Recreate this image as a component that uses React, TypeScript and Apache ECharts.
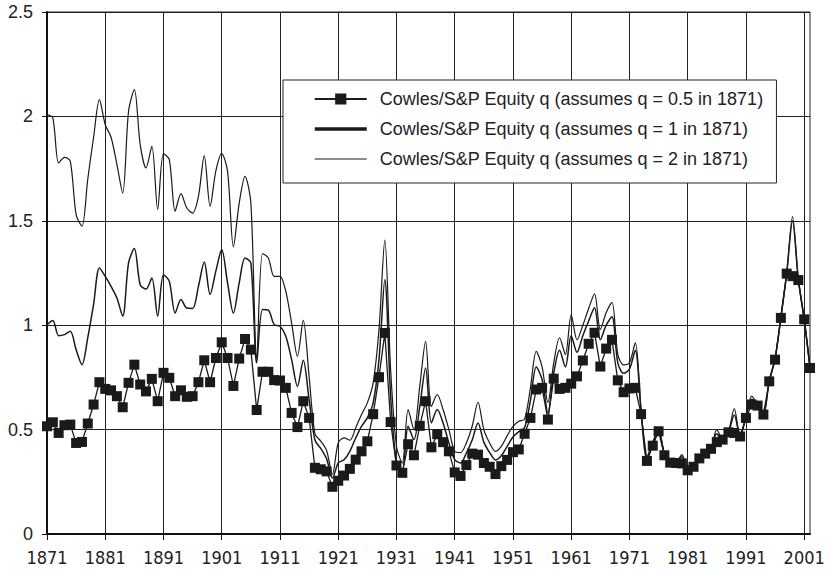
import React, { useEffect, useRef } from "react";
import * as echarts from "echarts";

const FIRST_YEAR = 1871;
const LAST_YEAR = 2002;
const years: string[] = [];
for (let y = FIRST_YEAR; y <= LAST_YEAR; y++) years.push(String(y));

const NAME_05 = "Cowles/S&P Equity q (assumes q = 0.5 in 1871)";
const NAME_1 = "Cowles/S&P Equity q (assumes q = 1 in 1871)";
const NAME_2 = "Cowles/S&P Equity q (assumes q = 2 in 1871)";

// 1871 .. 2002
const q05 = [
  0.516, 0.535, 0.484, 0.521, 0.524, 0.436, 0.441, 0.529, 0.62, 0.727,
  0.695, 0.688, 0.66, 0.607, 0.724, 0.811, 0.716, 0.683, 0.743, 0.636,
  0.772, 0.748, 0.66, 0.688, 0.657, 0.66, 0.727, 0.832, 0.727, 0.843,
  0.918, 0.843, 0.709, 0.84, 0.934, 0.883, 0.594, 0.777, 0.777, 0.737,
  0.735, 0.7, 0.58, 0.512, 0.636, 0.556, 0.317, 0.31, 0.3, 0.226,
  0.255, 0.28, 0.312, 0.356, 0.396, 0.444, 0.574, 0.751, 0.963, 0.536,
  0.328, 0.293, 0.43, 0.377, 0.518, 0.636, 0.415, 0.478, 0.44, 0.396,
  0.295, 0.278, 0.33, 0.385, 0.38, 0.34, 0.322, 0.287, 0.325, 0.355,
  0.392, 0.405, 0.48, 0.556, 0.692, 0.7, 0.548, 0.744, 0.695, 0.7,
  0.72, 0.755, 0.831, 0.911, 0.964, 0.802, 0.888, 0.93, 0.736, 0.679,
  0.697, 0.7, 0.574, 0.35, 0.423, 0.492, 0.377, 0.342, 0.34, 0.338,
  0.305, 0.322, 0.362, 0.385, 0.408, 0.44, 0.452, 0.487, 0.484, 0.467,
  0.556, 0.62, 0.615, 0.572, 0.731, 0.835, 1.035, 1.247, 1.235, 1.216,
  1.028, 0.795,
];

const q1 = [
  1.003, 1.023, 0.95, 0.955, 0.971, 0.883, 0.811, 0.94, 1.1, 1.274,
  1.234, 1.186, 1.13, 1.043, 1.298, 1.367, 1.194, 1.173, 1.226, 1.043,
  1.242, 1.21, 1.058, 1.123, 1.082, 1.08, 1.186, 1.303, 1.147, 1.26,
  1.362, 1.203, 1.058, 1.203, 1.322, 1.298, 0.82, 1.075, 1.072, 1.003,
  0.995, 0.947, 0.835, 0.707, 0.832, 0.644, 0.45, 0.41, 0.36, 0.268,
  0.34, 0.356, 0.396, 0.46, 0.516, 0.556, 0.628, 0.835, 1.218, 0.66,
  0.34, 0.308, 0.516, 0.452, 0.611, 0.795, 0.532, 0.596, 0.532, 0.436,
  0.356, 0.34, 0.388, 0.45, 0.532, 0.44, 0.39, 0.355, 0.375, 0.42,
  0.465, 0.49, 0.51, 0.64, 0.8, 0.74, 0.58, 0.77, 0.88, 0.8,
  0.95, 0.87, 0.95, 1.02, 1.083, 0.93, 1.0, 1.04, 0.82, 0.77,
  0.79, 0.88, 0.585, 0.36, 0.43, 0.495, 0.385, 0.347, 0.342, 0.37,
  0.31, 0.322, 0.362, 0.387, 0.41, 0.48, 0.452, 0.488, 0.57, 0.47,
  0.558, 0.645, 0.62, 0.573, 0.733, 0.837, 1.037, 1.248, 1.5, 1.217,
  1.03, 0.797,
];

const q2 = [
  2.009, 1.993, 1.777, 1.804, 1.785, 1.53, 1.474, 1.7, 1.9, 2.08,
  1.96, 1.9, 1.77, 1.633, 2.024, 2.128, 1.865, 1.753, 1.857, 1.554,
  1.822, 1.793, 1.546, 1.63, 1.561, 1.537, 1.617, 1.812, 1.57, 1.74,
  1.822, 1.737, 1.375, 1.585, 1.713, 1.585, 0.84, 1.343, 1.322, 1.234,
  1.234, 1.162, 1.01, 0.851, 1.023, 0.755, 0.48, 0.445, 0.4, 0.285,
  0.436, 0.46, 0.449, 0.508, 0.572, 0.628, 0.724, 0.979, 1.407, 0.787,
  0.42, 0.34, 0.596, 0.5, 0.707, 0.923, 0.611, 0.668, 0.596, 0.5,
  0.396, 0.39, 0.436, 0.516, 0.631, 0.5, 0.436, 0.396, 0.42, 0.47,
  0.515, 0.54, 0.55, 0.7, 0.875, 0.8, 0.63, 0.82, 0.94, 0.86,
  1.05, 0.93, 1.0, 1.08, 1.15, 0.98, 1.06, 1.11, 0.86, 0.81,
  0.82, 0.915, 0.6, 0.37, 0.44, 0.5, 0.39, 0.35, 0.345, 0.38,
  0.31, 0.325, 0.365, 0.39, 0.41, 0.5, 0.455, 0.49, 0.6, 0.47,
  0.56, 0.66, 0.62, 0.575, 0.735, 0.84, 1.04, 1.25, 1.52, 1.22,
  1.03, 0.8,
];

const Y_MIN = 0;
const Y_MAX = 2.5;
const Y_STEP = 0.5;

const INK = "#1a1a1a";
const TEXT = "#222";
const HIDDEN_SYMBOL = { opacity: 0, color: "rgba(0,0,0,0)", borderWidth: 0 };

export default function App() {
  const ref = useRef<HTMLDivElement>(null);
  useEffect(() => {
    if (!ref.current) return;
    const chart = echarts.init(ref.current, undefined, { renderer: "svg" });
    chart.setOption({
      animation: false,
      backgroundColor: "#ffffff",
      grid: {
        left: 47,
        right: 20,
        top: 12,
        bottom: 40,
        show: true,
        borderColor: TEXT,
        borderWidth: 1,
        backgroundColor: "transparent",
      },
      legend: {
        orient: "vertical",
        left: 283,
        top: 80,
        padding: [9, 13, 14, 30],
        itemWidth: 52,
        itemHeight: 14,
        itemGap: 10,
        backgroundColor: "#ffffff",
        borderColor: TEXT,
        borderWidth: 1,
        borderRadius: 0,
        textStyle: {
          fontSize: 18,
          lineHeight: 20,
          fontFamily: "'Liberation Sans', Arial, sans-serif",
          color: TEXT,
          padding: [0, 0, 0, 8],
        },
        data: [
          { name: NAME_05 },
          { name: NAME_1, lineStyle: { width: 3.5 }, itemStyle: HIDDEN_SYMBOL },
          { name: NAME_2, lineStyle: { width: 1.2 }, itemStyle: HIDDEN_SYMBOL },
        ],
      },
      xAxis: {
        type: "category",
        data: years,
        boundaryGap: false,
        axisLine: { lineStyle: { color: "#111", width: 2 } },
        axisTick: { show: true, interval: 9, length: 6, lineStyle: { color: "#111", width: 1 } },
        axisLabel: {
          interval: 9,
          margin: 14,
          fontSize: 18,
          fontFamily: "'Liberation Sans Narrow', 'DejaVu Sans Condensed', sans-serif",
          color: TEXT,
        },
        splitLine: { show: true, interval: 9, lineStyle: { color: TEXT, width: 1 } },
      },
      yAxis: {
        type: "value",
        min: Y_MIN,
        max: Y_MAX,
        interval: Y_STEP,
        axisLine: { show: true, lineStyle: { color: "#111", width: 2 } },
        axisTick: { show: true, length: 5, lineStyle: { color: "#111", width: 1 } },
        axisLabel: {
          margin: 14,
          fontSize: 18,
          fontFamily: "'Liberation Sans', Arial, sans-serif",
          color: TEXT,
        },
        splitLine: { show: true, lineStyle: { color: TEXT, width: 1 } },
      },
      series: [
        {
          name: NAME_05,
          type: "line",
          data: q05,
          symbol: "rect",
          symbolSize: 10,
          showAllSymbol: true,
          itemStyle: { color: INK },
          lineStyle: { color: INK, width: 1.3 },
          z: 3,
        },
        {
          name: NAME_1,
          type: "line",
          data: q1,
          symbol: "none",
          smooth: 0.3,
          lineStyle: { color: INK, width: 1.5 },
          itemStyle: { color: INK },
          z: 2,
        },
        {
          name: NAME_2,
          type: "line",
          data: q2,
          symbol: "none",
          smooth: 0.3,
          lineStyle: { color: INK, width: 1.2 },
          itemStyle: { color: INK },
          z: 2,
        },
      ],
    });
    return () => chart.dispose();
  }, []);
  return (
    <div
      ref={ref}
      style={{ position: "fixed", left: 0, top: 0, width: 830, height: 574, background: "#fff" }}
    />
  );
}
